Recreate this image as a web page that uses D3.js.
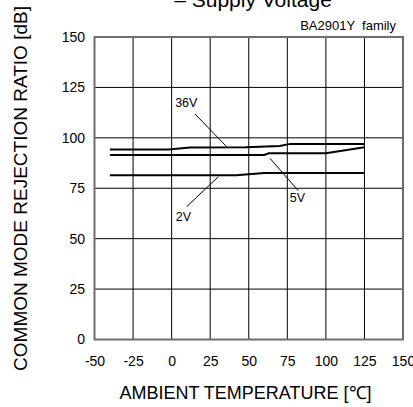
<!DOCTYPE html>
<html>
<head>
<meta charset="utf-8">
<script src="https://cdn.jsdelivr.net/npm/d3@7"></script>
<style>
  html, body { margin: 0; padding: 0; background: #fff; }
  svg { display: block; font-family: "Liberation Sans", Arial, sans-serif; }
</style>
</head>
<body>
<svg id="chart" width="413" height="407"></svg>
<script>
// CMRR vs ambient temperature, one curve per supply voltage
const xTicks = [-50, -25, 0, 25, 50, 75, 100, 125, 150];
const yTicks = [0, 25, 50, 75, 100, 125, 150];

const temp36V = [-40, -2, 12, 48, 70, 77, 125];
const cmrr36V = [94.2, 94.2, 95.2, 95.3, 96.0, 97.0, 97.0];

const temp5V = [-40, 60, 63, 100, 125];
const cmrr5V = [91.5, 91.5, 92.3, 92.3, 95.3];

const temp2V = [-40, 42, 60, 125];
const cmrr2V = [81.4, 81.4, 82.6, 82.6];

// callout labels: text, label anchor (temp, dB), leader start and end (temp, dB)
const calloutText = ["36V", "5V", "2V"];
const calloutLabel = [[9.5, 115.3], [81.6, 68.3], [7.6, 58.9]];
const calloutFrom = [[15.2, 111.8], [63.8, 89.8], [9.8, 65.9]];
const calloutTo = [[35.7, 95.6], [82.1, 73.8], [30.3, 80.7]];

const svg = d3.select("#chart");
const plotL = 94.5, plotR = 403, plotT = 37, plotB = 339.5;

const x = d3.scaleLinear().domain([-50, 150]).range([plotL, plotR]);
const y = d3.scaleLinear().domain([0, 150]).range([plotB, plotT]);

// grid
const grid = svg.append("g");
grid.selectAll("line.v").data(xTicks.slice(1, -1)).join("line")
  .attr("class", "v")
  .attr("x1", d => x(d)).attr("x2", d => x(d))
  .attr("y1", plotT).attr("y2", plotB)
  .attr("stroke", "#000").attr("stroke-width", 1);
grid.selectAll("line.h").data(yTicks.slice(1, -1)).join("line")
  .attr("class", "h")
  .attr("y1", d => y(d)).attr("y2", d => y(d))
  .attr("x1", plotL).attr("x2", plotR)
  .attr("stroke", "#000").attr("stroke-width", 1);

// plot frame
svg.append("rect")
  .attr("x", plotL).attr("y", plotT)
  .attr("width", plotR - plotL).attr("height", plotB - plotT)
  .attr("fill", "none").attr("stroke", "#6e6e6e").attr("stroke-width", 2);

// axes (plain hyphen for negative labels)
const plain = d => String(d);
const yAxis = svg.append("g")
  .attr("transform", `translate(${plotL},0)`)
  .call(d3.axisLeft(y).tickValues(yTicks).tickFormat(plain).tickSize(0).tickPadding(9.5));
const xAxis = svg.append("g")
  .attr("transform", `translate(0,${plotB})`)
  .call(d3.axisBottom(x).tickValues(xTicks).tickFormat(plain).tickSize(0).tickPadding(17));
[yAxis, xAxis].forEach(a => {
  a.select(".domain").remove();
  a.selectAll("text").attr("font-size", 14).attr("fill", "#000")
    .attr("font-family", "'Liberation Sans', Arial, sans-serif");
});

// curves
const line = d3.line().x(d => x(d[0])).y(d => y(d[1]));
const series = [
  d3.zip(temp36V, cmrr36V),
  d3.zip(temp5V, cmrr5V),
  d3.zip(temp2V, cmrr2V)
];
svg.append("g").selectAll("path").data(series).join("path")
  .attr("d", line)
  .attr("fill", "none").attr("stroke", "#000").attr("stroke-width", 2);

// callouts
const idx = calloutText.map((t, i) => i);
const callouts = svg.append("g");
callouts.selectAll("line").data(idx).join("line")
  .attr("x1", i => x(calloutFrom[i][0])).attr("y1", i => y(calloutFrom[i][1]))
  .attr("x2", i => x(calloutTo[i][0])).attr("y2", i => y(calloutTo[i][1]))
  .attr("stroke", "#000").attr("stroke-width", 1);
callouts.selectAll("text").data(idx).join("text")
  .attr("x", i => x(calloutLabel[i][0])).attr("y", i => y(calloutLabel[i][1]))
  .attr("text-anchor", "middle").attr("font-size", 12.5)
  .text(i => calloutText[i]);

// titles
svg.append("text")
  .attr("x", 253).attr("y", 7)
  .attr("text-anchor", "middle").attr("font-size", 21)
  .text("– Supply Voltage");
svg.append("text")
  .attr("x", 396).attr("y", 29.5)
  .attr("text-anchor", "end").attr("font-size", 13)
  .style("white-space", "pre")
  .text("BA2901Y  family");
svg.append("text")
  .attr("x", 245.5).attr("y", 399)
  .attr("text-anchor", "middle").attr("font-size", 18)
  .text("AMBIENT TEMPERATURE [℃]");
svg.append("text")
  .attr("transform", "translate(27,188.5) rotate(-90)")
  .attr("text-anchor", "middle").attr("font-size", 19)
  .text("COMMON MODE REJECTION RATIO [dB]");
</script>
</body>
</html>
